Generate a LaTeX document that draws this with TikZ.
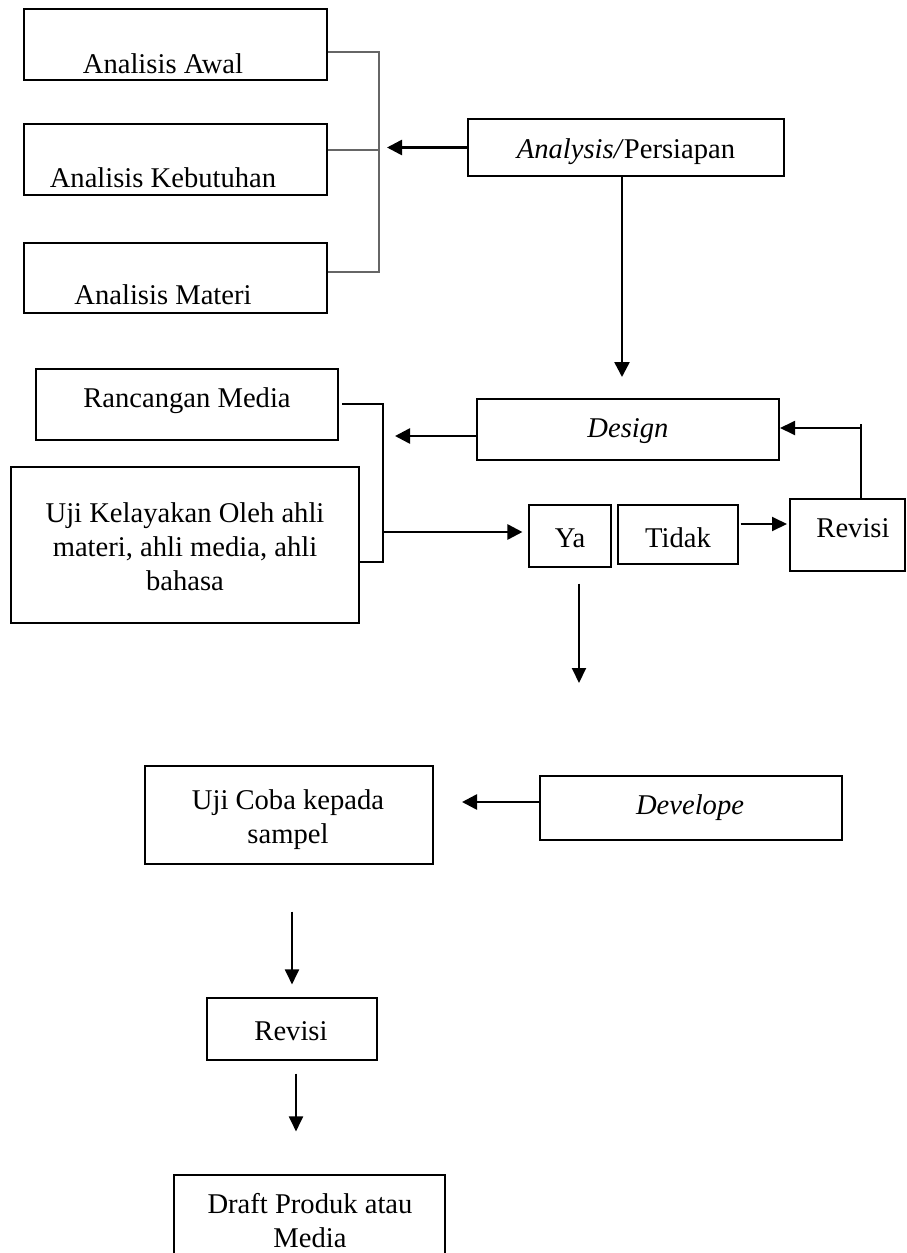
\documentclass[tikz,border=0pt]{standalone}
\usepackage{fontspec}
\setmainfont{Liberation Serif}
\usetikzlibrary{arrows.meta,calc}
\begin{document}
\begin{tikzpicture}[x=1pt,y=-1pt,
  every node/.style={font=\fontsize{28.6pt}{34pt}\selectfont},
  thickbox/.style={draw,line width=2pt,inner sep=0pt},
  thinbox/.style={draw,line width=1.1pt,inner sep=0pt},
  txt/.style={anchor=base,inner sep=0pt,align=center},
  bigarr/.style={line width=2.6pt,-{Triangle[length=15pt,width=15pt]}},
  smallarr/.style={line width=1.9pt,-{Triangle[length=15pt,width=14pt]}},
  bracket/.style={line width=1.1pt,draw=black!60},
  plainline/.style={line width=1.8pt}]
\useasboundingbox (0,0) rectangle (907,1253);

% --- Analysis stage boxes
\node[thickbox,minimum width=303pt,minimum height=71pt] (aw) at (175.5,44.5) {};
\node[thickbox,minimum width=303pt,minimum height=71pt] (ak) at (175.5,159.5) {};
\node[thickbox,minimum width=303pt,minimum height=70pt] (am) at (175.5,278) {};
\node[txt] (awt) at (163,73) {Analisis Awal};
\node[txt] (akt) at (163,187) {Analisis Kebutuhan};
\node[txt] (amt) at (163,304) {Analisis Materi};

\node[thickbox,minimum width=316pt,minimum height=57pt] (an) at (626,147.5) {};
\node[txt] (ant) at (626,158) {\textit{Analysis/}Persiapan};

% --- Design stage
\node[thickbox,minimum width=302pt,minimum height=71pt] (rm) at (187,404.5) {};
\node[txt] (rmt) at (187,407) {Rancangan Media};
\node[thinbox,minimum width=348pt,minimum height=156pt] (uk) at (185,545) {};
\node[txt] (ukt) at (185,590) {Uji Kelayakan Oleh ahli\\materi, ahli media, ahli\\bahasa};

\node[thickbox,minimum width=302pt,minimum height=61pt] (de) at (628,429.5) {};
\node[txt] (det) at (628,437) {\textit{Design}};

\node[thinbox,minimum width=82pt,minimum height=62pt] (ya) at (570,536) {};
\node[txt] (yat) at (570,547) {Ya};
\node[thinbox,minimum width=120pt,minimum height=59pt] (td) at (678,534.5) {};
\node[txt] (tdt) at (678,547) {Tidak};
\node[thickbox,minimum width=115pt,minimum height=72pt] (rv) at (847.5,535) {};
\node[txt] (rvt) at (853,537) {Revisi};

% --- Develop stage
\node[thinbox,minimum width=288pt,minimum height=98pt] (uc) at (289,815) {};
\node[txt] (uct) at (288,843) {Uji Coba kepada\\sampel};
\node[thickbox,minimum width=302pt,minimum height=64pt] (dv) at (691,808) {};
\node[txt] (dvt) at (690,814) {\textit{Develope}};

\node[thinbox,minimum width=170pt,minimum height=62pt] (rv2) at (292,1029) {};
\node[txt] (rv2t) at (291,1040) {Revisi};
\node[thinbox,minimum width=271pt,minimum height=90pt] (dp) at (309.5,1220) {};
\node[txt] (dpt) at (310,1247) {Draft Produk atau\\Media};

% --- coordinates
\coordinate (ba) at (379,52);
\coordinate (bb) at (379,150);
\coordinate (bc) at (379,272);
\coordinate (bt) at (387,147.5);
\coordinate (dtip) at (622,377);
\coordinate (r1) at (383,404);
\coordinate (r2) at (383,562);
\coordinate (r3) at (383,532);
\coordinate (da) at (395,436);
\coordinate (t1) at (740,524);
\coordinate (fb) at (861,428);
\coordinate (fbt) at (861,424);
\coordinate (yd) at (579,683);
\coordinate (dva) at (462,802);

% --- connectors
\draw[bracket] (aw.east|-ba) -- (ba) -- (bc) -- (am.east|-bc);
\draw[bracket] (ak.east|-bb) -- (bb);
\draw[bigarr] (an.west) -- (bt);
\draw[bigarr] (an.south-|dtip) -- (dtip);

\draw[plainline] ([xshift=3pt]rm.east|-r1) -- (r1) -- (r2) -- (uk.east|-r2);
\draw[bigarr] (r3) -- ([xshift=-6pt]ya.west|-r3);
\draw[bigarr] (de.west|-da) -- (da);

\draw[smallarr] ([xshift=2pt]td.east|-t1) -- ([xshift=-2pt]rv.west|-t1);
\draw[plainline] (rv.north-|fb) -- (fbt);
\draw[smallarr] (fb) -- (de.east|-fb);
\draw[smallarr,shorten <=16pt] (ya.south-|yd) -- (yd);

\draw[bigarr] (dv.west|-dva) -- (dva);
\draw[smallarr,shorten <=47pt,shorten >=13pt] (uc.south-|rv2.north) -- (rv2.north);
\draw[smallarr,shorten <=13pt,shorten >=43pt] ([xshift=4pt]rv2.south) -- ([xshift=4pt]rv2.south|-dp.north);
\end{tikzpicture}
\end{document}
